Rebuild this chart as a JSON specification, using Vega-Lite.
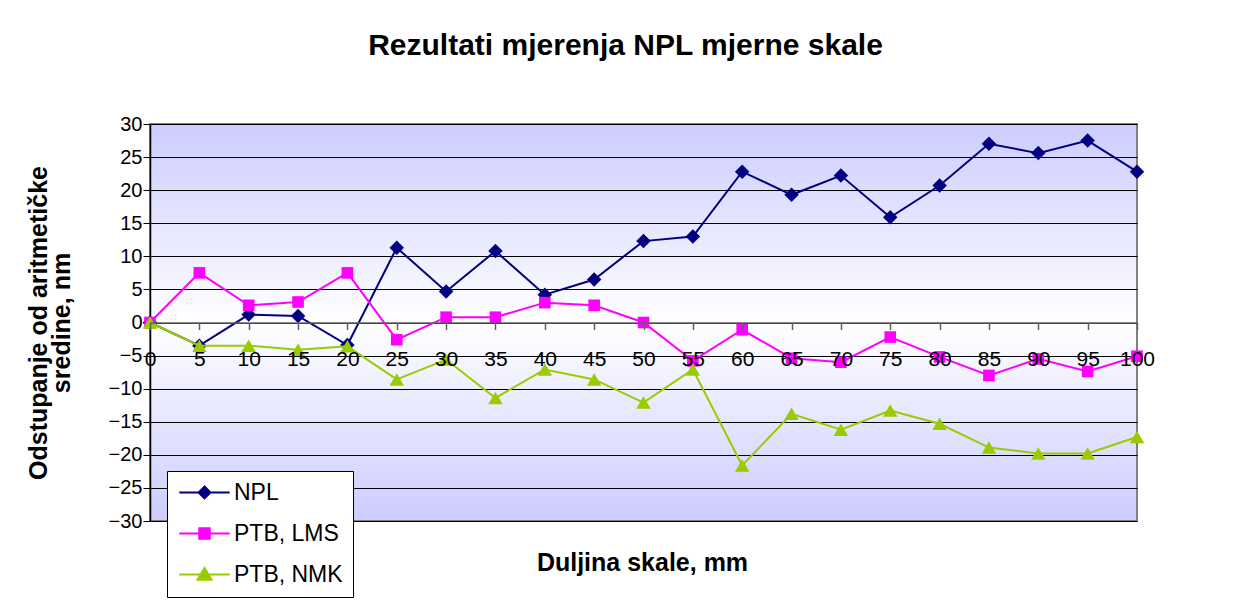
{
  "$schema": "https://vega.github.io/schema/vega-lite/v6.json",
  "width": 987,
  "height": 397,
  "autosize": {"type": "none"},
  "padding": {"left": 150, "top": 124, "right": 101, "bottom": 83},
  "background": "white",
  "title": {"text": "Rezultati mjerenja NPL mjerne skale", "fontSize": 30, "fontWeight": "bold", "font": "Liberation Sans", "color": "#000000", "anchor": "middle", "dx": -18, "offset": 29, "baseline": "alphabetic"},
  "data": {"values": [
    {"x": 0, "v": 0, "series": "NPL"},
    {"x": 5, "v": -3.5, "series": "NPL"},
    {"x": 10, "v": 1.2, "series": "NPL"},
    {"x": 15, "v": 1.0, "series": "NPL"},
    {"x": 20, "v": -3.4, "series": "NPL"},
    {"x": 25, "v": 11.3, "series": "NPL"},
    {"x": 30, "v": 4.7, "series": "NPL"},
    {"x": 35, "v": 10.8, "series": "NPL"},
    {"x": 40, "v": 4.2, "series": "NPL"},
    {"x": 45, "v": 6.5, "series": "NPL"},
    {"x": 50, "v": 12.3, "series": "NPL"},
    {"x": 55, "v": 13.0, "series": "NPL"},
    {"x": 60, "v": 22.8, "series": "NPL"},
    {"x": 65, "v": 19.3, "series": "NPL"},
    {"x": 70, "v": 22.2, "series": "NPL"},
    {"x": 75, "v": 15.9, "series": "NPL"},
    {"x": 80, "v": 20.7, "series": "NPL"},
    {"x": 85, "v": 27.0, "series": "NPL"},
    {"x": 90, "v": 25.6, "series": "NPL"},
    {"x": 95, "v": 27.5, "series": "NPL"},
    {"x": 100, "v": 22.8, "series": "NPL"},
    {"x": 0, "v": 0, "series": "PTB, LMS"},
    {"x": 5, "v": 7.5, "series": "PTB, LMS"},
    {"x": 10, "v": 2.6, "series": "PTB, LMS"},
    {"x": 15, "v": 3.1, "series": "PTB, LMS"},
    {"x": 20, "v": 7.5, "series": "PTB, LMS"},
    {"x": 25, "v": -2.6, "series": "PTB, LMS"},
    {"x": 30, "v": 0.8, "series": "PTB, LMS"},
    {"x": 35, "v": 0.8, "series": "PTB, LMS"},
    {"x": 40, "v": 3.0, "series": "PTB, LMS"},
    {"x": 45, "v": 2.6, "series": "PTB, LMS"},
    {"x": 50, "v": 0.0, "series": "PTB, LMS"},
    {"x": 55, "v": -5.8, "series": "PTB, LMS"},
    {"x": 60, "v": -1.1, "series": "PTB, LMS"},
    {"x": 65, "v": -5.4, "series": "PTB, LMS"},
    {"x": 70, "v": -6.0, "series": "PTB, LMS"},
    {"x": 75, "v": -2.2, "series": "PTB, LMS"},
    {"x": 80, "v": -5.2, "series": "PTB, LMS"},
    {"x": 85, "v": -8.0, "series": "PTB, LMS"},
    {"x": 90, "v": -5.5, "series": "PTB, LMS"},
    {"x": 95, "v": -7.4, "series": "PTB, LMS"},
    {"x": 100, "v": -5.1, "series": "PTB, LMS"},
    {"x": 0, "v": 0, "series": "PTB, NMK"},
    {"x": 5, "v": -3.5, "series": "PTB, NMK"},
    {"x": 10, "v": -3.5, "series": "PTB, NMK"},
    {"x": 15, "v": -4.1, "series": "PTB, NMK"},
    {"x": 20, "v": -3.6, "series": "PTB, NMK"},
    {"x": 25, "v": -8.6, "series": "PTB, NMK"},
    {"x": 30, "v": -5.6, "series": "PTB, NMK"},
    {"x": 35, "v": -11.4, "series": "PTB, NMK"},
    {"x": 40, "v": -7.1, "series": "PTB, NMK"},
    {"x": 45, "v": -8.6, "series": "PTB, NMK"},
    {"x": 50, "v": -12.1, "series": "PTB, NMK"},
    {"x": 55, "v": -7.1, "series": "PTB, NMK"},
    {"x": 60, "v": -21.6, "series": "PTB, NMK"},
    {"x": 65, "v": -13.8, "series": "PTB, NMK"},
    {"x": 70, "v": -16.2, "series": "PTB, NMK"},
    {"x": 75, "v": -13.3, "series": "PTB, NMK"},
    {"x": 80, "v": -15.3, "series": "PTB, NMK"},
    {"x": 85, "v": -18.9, "series": "PTB, NMK"},
    {"x": 90, "v": -19.8, "series": "PTB, NMK"},
    {"x": 95, "v": -19.8, "series": "PTB, NMK"},
    {"x": 100, "v": -17.3, "series": "PTB, NMK"}
  ]},
  "encoding": {
    "x": {
      "field": "x", "type": "quantitative",
      "scale": {"domain": [0, 100], "nice": false, "zero": false},
      "axis": {
        "title": "Duljina skale, mm",
        "values": [0, 5, 10, 15, 20, 25, 30, 35, 40, 45, 50, 55, 60, 65, 70, 75, 80, 85, 90, 95, 100],
        "offset": -198.5, "grid": false,
        "domainColor": "#606060", "domainWidth": 1.5, "tickColor": "#606060", "tickSize": 7, "tickWidth": 1.5,
        "labelPadding": 19, "labelFontSize": 21, "labelFlush": false, "labelOverlap": false, "labelColor": "#000000",
        "titleFontSize": 25, "titleFontWeight": "bold", "titleColor": "#000000",
        "titleY": 248, "titleX": 492, "titleBaseline": "alphabetic", "zindex": 1
      }
    },
    "y": {
      "field": "v", "type": "quantitative",
      "scale": {"domain": [-30, 30], "nice": false, "zero": false},
      "axis": {
        "title": ["Odstupanje od aritmetičke", "sredine, nm"],
        "values": [-30, -25, -20, -15, -10, -5, 0, 5, 10, 15, 20, 25, 30],
        "grid": true, "gridColor": "#000000", "gridWidth": 1, "gridOpacity": 1,
        "domainColor": "#000000", "domainWidth": 1.5, "tickColor": "#000000", "tickSize": 7,
        "labelPadding": 1, "labelFontSize": 20, "labelColor": "#000000",
        "titleFontSize": 25, "titleFontWeight": "bold", "titleColor": "#000000",
        "titleX": -124, "titleBaseline": "top", "titleLineHeight": 23, "titleAngle": 270
      }
    }
  },
  "layer": [
    {
      "transform": [{"filter": "datum.series === 'NPL'"}],
      "mark": {"type": "line", "strokeWidth": 2, "color": "#000080"}
    },
    {
      "transform": [{"filter": "datum.series === 'NPL'"}],
      "mark": {"type": "point", "filled": true, "shape": "diamond", "size": 210, "opacity": 1, "color": "#000080"}
    },
    {
      "transform": [{"filter": "datum.series === 'PTB, LMS'"}],
      "mark": {"type": "line", "strokeWidth": 2, "color": "#ff00ff"}
    },
    {
      "transform": [{"filter": "datum.series === 'PTB, LMS'"}],
      "mark": {"type": "point", "filled": true, "shape": "square", "size": 135, "opacity": 1, "color": "#ff00ff"}
    },
    {
      "transform": [{"filter": "datum.series === 'PTB, NMK'"}],
      "mark": {"type": "line", "strokeWidth": 2, "color": "#99cc00"}
    },
    {
      "transform": [{"filter": "datum.series === 'PTB, NMK'"}],
      "mark": {"type": "point", "filled": true, "shape": "triangle-up", "size": 210, "opacity": 1, "color": "#99cc00"}
    },
    {
      "mark": {"type": "point", "filled": true, "size": 196, "clip": true, "opacity": 1},
      "encoding": {
        "y": {"datum": 200, "type": "quantitative"},
        "color": {"field": "series", "type": "nominal",
          "scale": {"domain": ["NPL", "PTB, LMS", "PTB, NMK"], "range": ["#000080", "#ff00ff", "#99cc00"]},
          "legend": {
            "title": null, "orient": "none", "legendX": 17, "legendY": 347,
            "fillColor": "#ffffff", "strokeColor": "#000000", "padding": 10, "cornerRadius": 0,
            "labelFont": "Liberation Sans", "labelFontSize": 23, "labelColor": "#000000", "labelLimit": 300,
            "symbolSize": 196, "symbolStrokeWidth": 2, "symbolOpacity": 1, "symbolOffset": 16, "labelOffset": 18,
            "rowPadding": 17
          }},
        "stroke": {"field": "series", "type": "nominal", "legend": {"title": null},
          "scale": {"domain": ["NPL", "PTB, LMS", "PTB, NMK"], "range": ["#000080", "#ff00ff", "#99cc00"]}},
        "shape": {"field": "series", "type": "nominal", "legend": {"title": null},
          "scale": {"domain": ["NPL", "PTB, LMS", "PTB, NMK"],
            "range": ["M-3.6,0H3.6M0,-0.85L0.85,0L0,0.85L-0.85,0Z", "M-3.6,0H3.6M-0.75,-0.75H0.75V0.75H-0.75Z", "M-3.6,0H3.6M0,-0.95L1,0.75H-1Z"]}}
      }
    }
  ],
  "config": {
    "font": "Liberation Sans",
    "view": {
      "stroke": "#808080", "strokeWidth": 2,
      "fill": {"gradient": "linear", "x1": 0, "y1": 0, "x2": 0, "y2": 1,
        "stops": [{"offset": 0, "color": "#ccccff"}, {"offset": 0.5, "color": "#ffffff"}, {"offset": 1, "color": "#ccccff"}]}
    },
    "axis": {"labelFont": "Liberation Sans", "titleFont": "Liberation Sans"}
  }
}
